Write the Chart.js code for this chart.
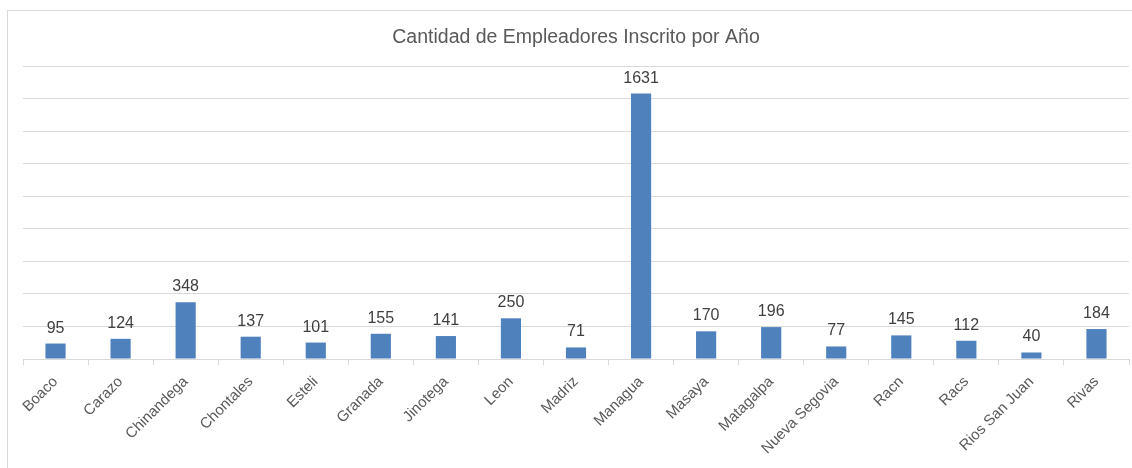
<!DOCTYPE html>
<html>
<head>
<meta charset="utf-8">
<script src="https://cdn.jsdelivr.net/npm/chart.js@4/dist/chart.umd.min.js"></script>
<style>
html,body{margin:0;padding:0;background:#fff;}
#wrap{width:1132px;height:468px;position:relative;}
</style>
</head>
<body>
<div id="wrap"><canvas id="c" width="1132" height="468"></canvas></div>
<script>
const titleText = "Cantidad de Empleadores Inscrito por Año";
const categories = ["Boaco","Carazo","Chinandega","Chontales","Esteli","Granada","Jinotega","Leon","Madriz","Managua","Masaya","Matagalpa","Nueva Segovia","Racn","Racs","Rios San Juan","Rivas"];
const values = [95,124,348,137,101,155,141,250,71,1631,170,196,77,145,112,40,184];
const yMax = 1800;
const yStep = 200;

const FONT = "'Liberation Sans', Arial, sans-serif";

const framePlugin = {
  id: 'frame',
  beforeDraw(chart) {
    const ctx = chart.ctx;
    ctx.save();
    ctx.fillStyle = '#fff';
    ctx.fillRect(0, 0, chart.width, chart.height);
    ctx.strokeStyle = '#d9d9d9';
    ctx.lineWidth = 1;
    ctx.strokeRect(7.5, 10.5, chart.width + 10, chart.height + 10);
    ctx.restore();
  }
};

const labelPlugin = {
  id: 'barLabels',
  afterDatasetsDraw(chart) {
    const ctx = chart.ctx;
    const meta = chart.getDatasetMeta(0);
    ctx.save();
    ctx.font = "16px " + FONT;
    ctx.fillStyle = '#404040';
    ctx.textAlign = 'center';
    ctx.textBaseline = 'alphabetic';
    meta.data.forEach((bar, i) => {
      ctx.fillText(String(chart.data.datasets[0].data[i]), bar.x, bar.y - 11);
    });
    ctx.restore();
  }
};

new Chart(document.getElementById('c'), {
  type: 'bar',
  data: {
    labels: categories,
    datasets: [{
      data: values,
      backgroundColor: '#4f81bd',
      borderWidth: 0,
      categoryPercentage: 1.0,
      barPercentage: 0.31
    }]
  },
  options: {
    responsive: false,
    animation: false,
    devicePixelRatio: 1,
    layout: { padding: { left: 23, right: 3, top: 0, bottom: 0 } },
    plugins: {
      legend: { display: false },
      tooltip: { enabled: false },
      title: {
        display: true,
        text: titleText,
        color: '#595959',
        font: { family: FONT, size: 19.5, weight: 'normal' },
        padding: { top: 26, bottom: 16.6 },
        lineHeight: 1.2
      }
    },
    scales: {
      x: {
        grid: { display: true, drawOnChartArea: false, drawTicks: true, tickLength: 6, offset: true, color: '#d9d9d9' },
        border: { display: true, color: '#d9d9d9' },
        ticks: {
          maxRotation: 45, minRotation: 45,
          color: '#595959',
          font: { family: FONT, size: 15 },
          padding: 8,
          autoSkip: false
        },
        afterFit(scale) { scale.height = 109; }
      },
      y: {
        min: 0, max: yMax,
        ticks: { display: false, stepSize: yStep },
        grid: { color: '#d9d9d9', drawTicks: false },
        border: { display: false }
      }
    }
  },
  plugins: [framePlugin, labelPlugin]
});
</script>
</body>
</html>
